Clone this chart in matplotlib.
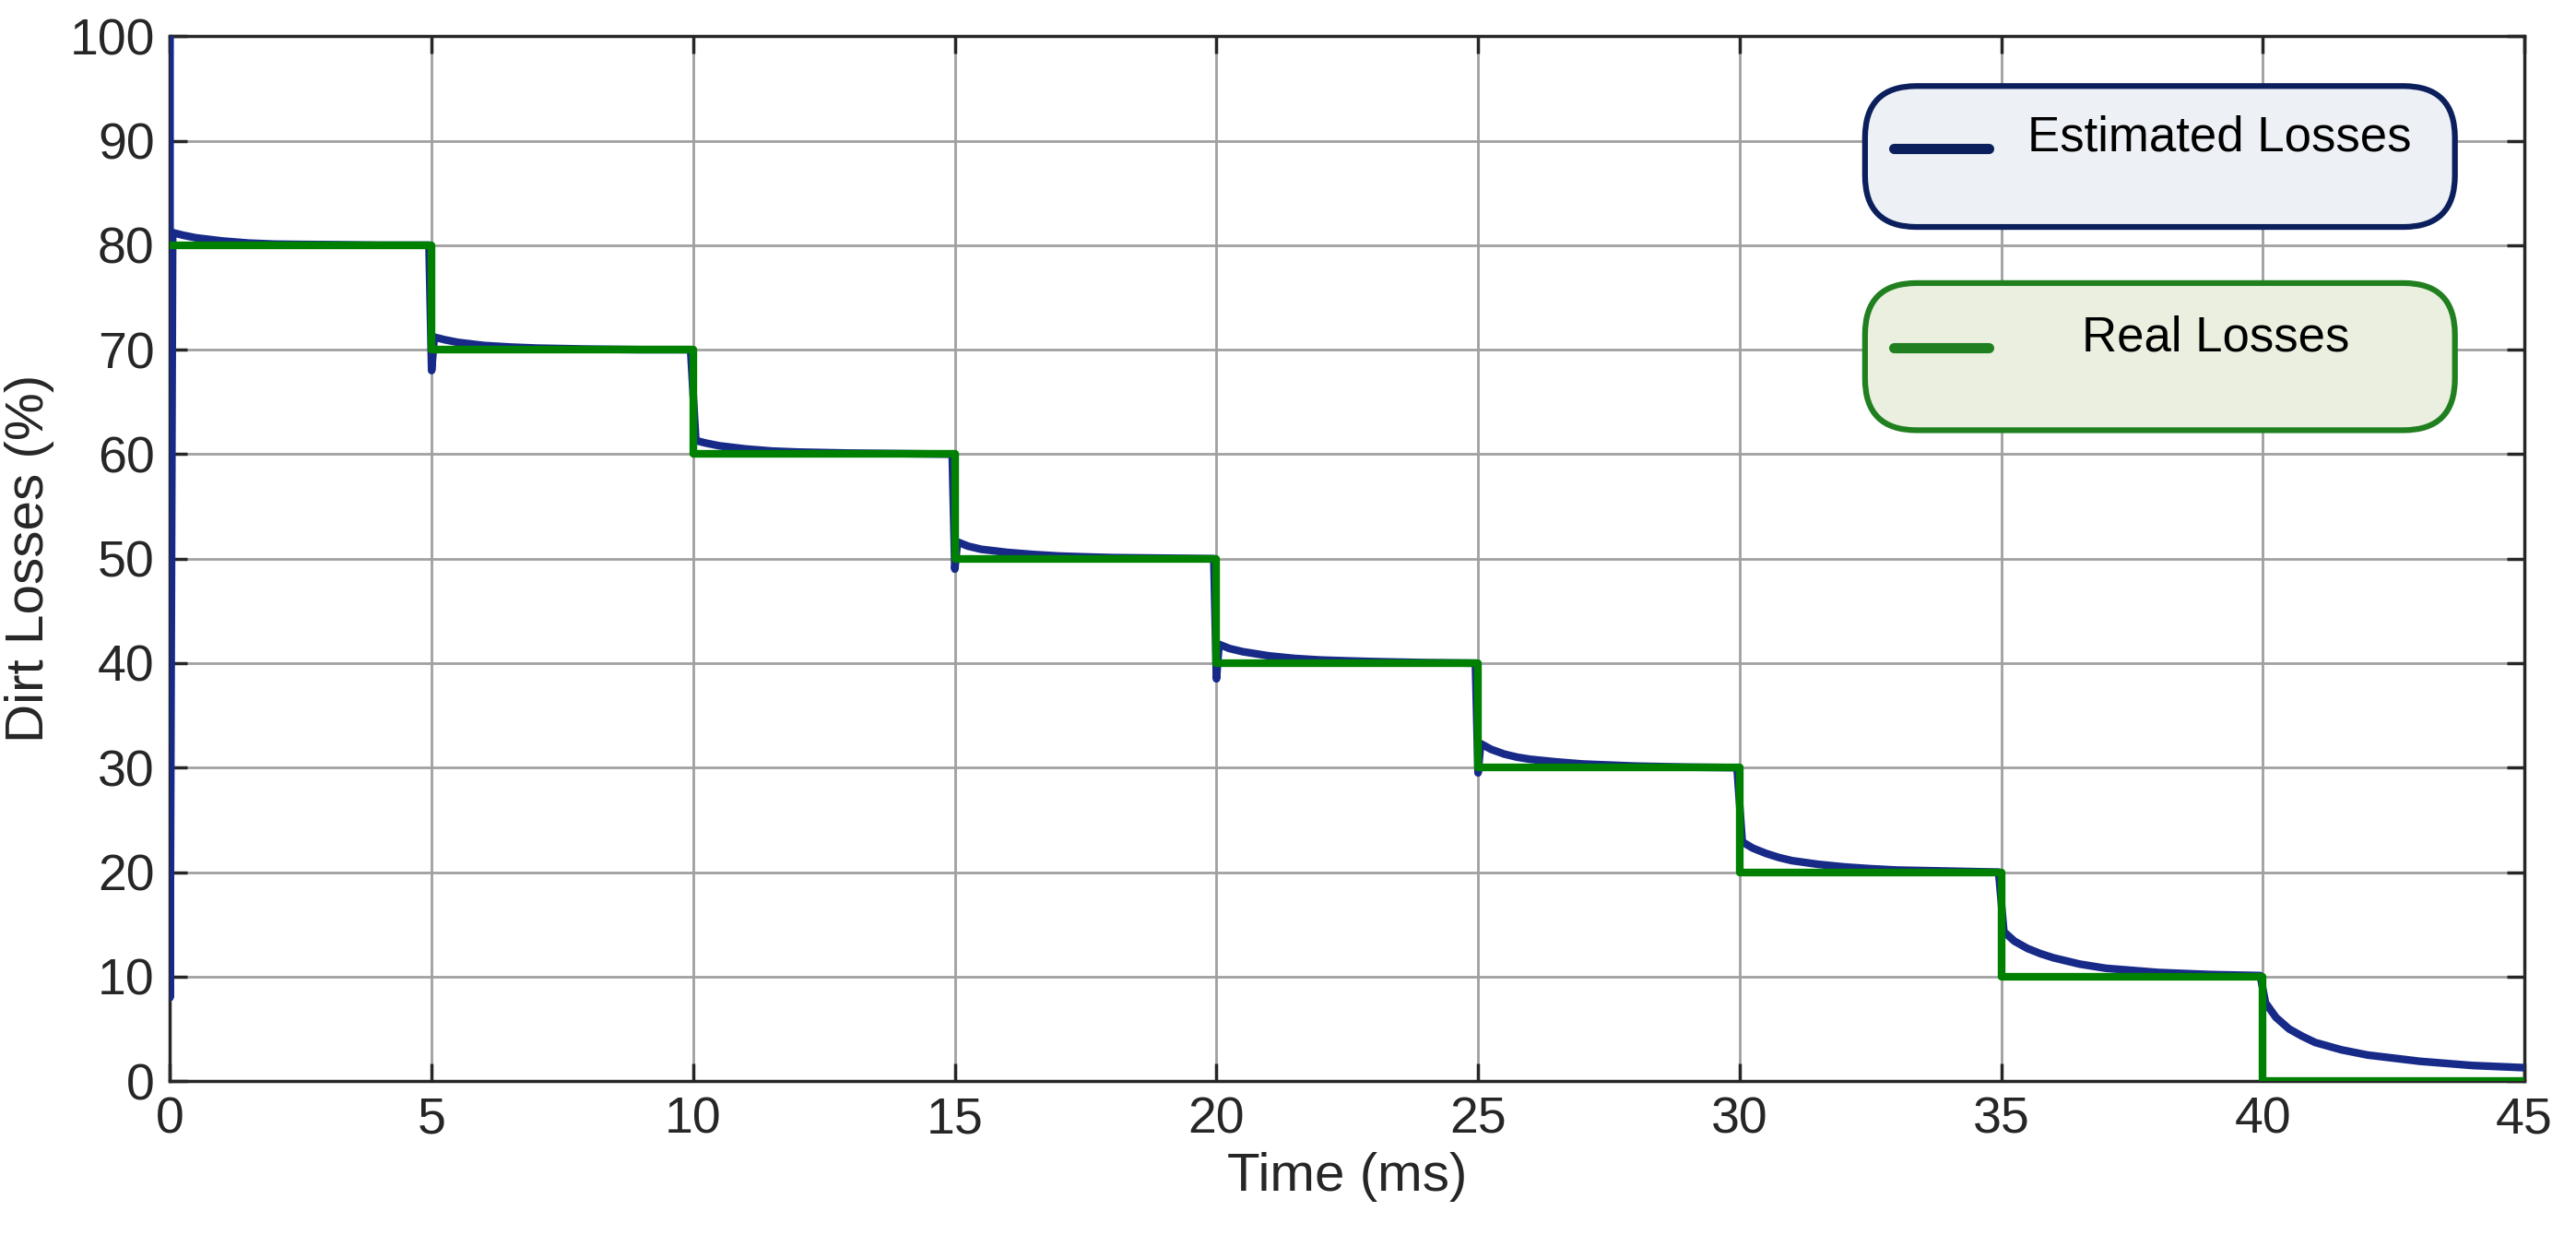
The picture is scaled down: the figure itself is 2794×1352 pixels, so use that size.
import matplotlib
matplotlib.use("Agg")
import matplotlib.pyplot as plt
from matplotlib.patches import FancyBboxPatch
from matplotlib.lines import Line2D

plt.rcParams['font.family'] = ['Liberation Sans', 'DejaVu Sans']

# Real losses: step levels
step_times = [0, 5, 10, 15, 20, 25, 30, 35, 40]
real_levels = [80, 70, 60, 50, 40, 30, 20, 10, 0]
t_end = 45

# Estimated losses: overshoot above the real level, sampled at times after each step
sample_dt = [0.05, 0.25, 0.5, 0.75, 1.0, 1.5, 2.0, 2.5, 3.0, 4.0, 4.95]
est_offsets = [
    [1.2, 0.95, 0.7, 0.55, 0.4, 0.2, 0.1, 0.07, 0.05, 0.0, 0.0],
    [1.2, 0.95, 0.7, 0.55, 0.4, 0.25, 0.15, 0.1, 0.05, 0.0, 0.0],
    [1.3, 1.05, 0.8, 0.65, 0.5, 0.3, 0.2, 0.15, 0.1, 0.05, 0.0],
    [1.6, 1.2, 0.9, 0.75, 0.6, 0.4, 0.25, 0.17, 0.1, 0.05, 0.0],
    [1.8, 1.4, 1.1, 0.9, 0.7, 0.45, 0.3, 0.22, 0.15, 0.05, 0.0],
    [2.3, 1.75, 1.3, 1.0, 0.8, 0.55, 0.35, 0.25, 0.15, 0.05, 0.0],
    [2.9, 2.3, 1.8, 1.4, 1.1, 0.75, 0.5, 0.33, 0.2, 0.1, 0.0],
    [4.3, 3.4, 2.7, 2.2, 1.8, 1.2, 0.8, 0.6, 0.4, 0.2, 0.1],
    [7.5, 6.1, 5.0, 4.3, 3.7, 3.0, 2.5, 2.2, 1.9, 1.5, 1.3],
]
# transient dips of the estimate at each step (None = no visible dip)
est_dips = [8, 68, None, 49, 38.5, 29.5, None, None, None]
est_start_peak = 100

blue = '#172a88'
green = '#008000'

fig = plt.figure(figsize=(27.94, 13.52), dpi=100)
ax = fig.add_axes([0.066, 0.133, 0.914, 0.838])

et, ev = [0], [est_start_peak]
for s, lvl, offs, dip in zip(step_times, real_levels, est_offsets, est_dips):
    if dip is not None:
        et.append(s); ev.append(dip)
    for dt, o in zip(sample_dt, offs):
        et.append(s + dt); ev.append(lvl + o)
ax.plot(et, ev, color=blue, lw=6, zorder=3, solid_joinstyle='round')

rt = step_times + [t_end]
rv = real_levels + [real_levels[-1]]
ax.step(rt, rv, where='post', color=green, lw=6, zorder=4)

ax.set_xlim(0, 45)
ax.set_ylim(0, 100)
ax.set_xticks(range(0, 46, 5))
ax.set_yticks(range(0, 101, 10))
ax.grid(True, color='#a0a0a0', lw=2)
ax.tick_params(labelsize=40, length=14, width=2.5, direction='in', top=True, right=True,
               colors='#262626', pad=12)
for sp in ax.spines.values():
    sp.set_linewidth(2.5)
    sp.set_color('#262626')
ax.set_xlabel('Time (ms)', fontsize=42, color='#262626', labelpad=6)
ax.set_ylabel('Dirt Losses (%)', fontsize=42, color='#262626', labelpad=12)

def box(y0, y1, edge, face, label, text_x):
    p = FancyBboxPatch((0.724, y0), 0.229, y1 - y0, boxstyle='round,pad=0,rounding_size=0.02',
                       transform=fig.transFigure, fc=face, ec=edge, lw=4.5, zorder=10,
                       mutation_aspect=2794/1352)
    fig.add_artist(p)
    ym = y1 - 0.44 * (y1 - y0)
    fig.add_artist(Line2D([0.735, 0.772], [ym, ym], transform=fig.transFigure,
                          color=edge, lw=8, solid_capstyle='round', zorder=11))
    fig.text(text_x, ym + 0.008, label, fontsize=38, ha='left', va='center', zorder=12)

box(0.818, 0.931, '#0b1f5c', '#edf0f5', 'Estimated Losses', 0.787)
box(0.655, 0.773, '#208020', '#eaefdf', 'Real Losses', 0.808)

fig.savefig('out.png', dpi=100)
